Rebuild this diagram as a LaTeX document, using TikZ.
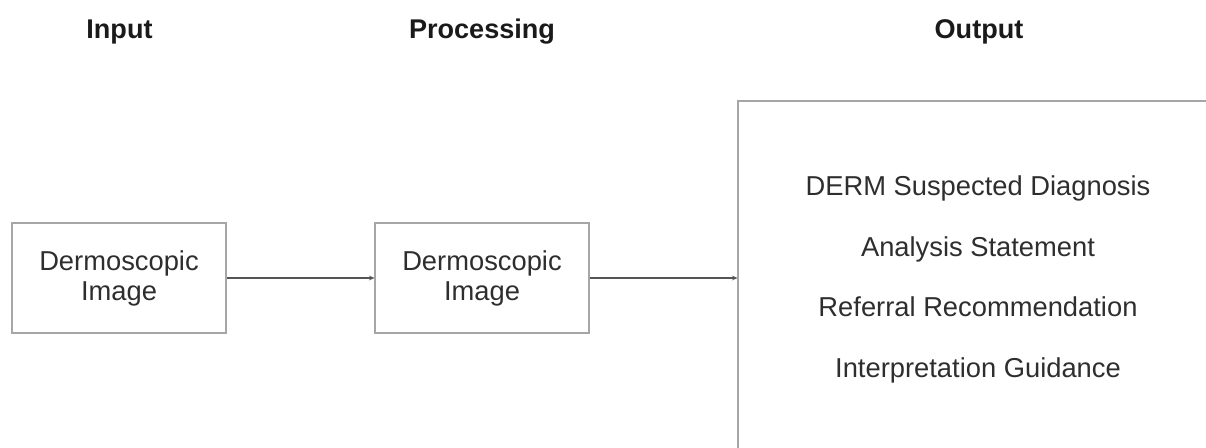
\documentclass[tikz,border=0pt]{standalone}
\usepackage{fontspec}
\setmainfont{Liberation Sans}
\usetikzlibrary{arrows.meta}
\definecolor{boxgray}{HTML}{A6A6A6}
\definecolor{arrowgray}{HTML}{555555}
\definecolor{txtgray}{HTML}{2E2E2E}
\definecolor{headgray}{HTML}{1A1A1A}
\tikzset{
  bodyfont/.style={font=\fontsize{20.5pt}{22.5pt}\selectfont, text=txtgray},
  heading/.style={font=\fontsize{20.3pt}{22.5pt}\selectfont\bfseries, text=headgray, anchor=base},
  stagebox/.style={draw=boxgray, line width=0.9pt, minimum width=160.5pt, minimum height=82.5pt, inner sep=0pt, align=center, bodyfont},
  outline/.style={anchor=base, bodyfont},
  flow/.style={draw=arrowgray, line width=1pt, -{Stealth[length=4pt,width=3.5pt]}}
}
\begin{document}
\begin{tikzpicture}[x=0.75pt,y=-0.75pt]
\useasboundingbox (0,0) rectangle (1206,448);
\clip (0,0) rectangle (1206,448);
\node[heading] (hin) at (119.5,39) {Input};
\node[heading] (hproc) at (482,39) {Processing};
\node[heading] (hout) at (979,39) {Output};
\node[stagebox] (b1) at (119,278) {Dermoscopic\\Image};
\node[stagebox] (b2) at (482,278) {Dermoscopic\\Image};
\node[draw=boxgray, line width=0.9pt, minimum width=369pt, minimum height=276.75pt, inner sep=0pt] (outbox) at (984,285.5) {};
\node[outline] (o1) at (978,196) {DERM Suspected Diagnosis};
\node[outline] (o2) at (978,257) {Analysis Statement};
\node[outline] (o3) at (978,317) {Referral Recommendation};
\node[outline] (o4) at (978,378) {Interpretation Guidance};
\draw[flow] (b1.east) -- (b2.west);
\draw[flow] (b2.east) -- (outbox.west |- b2.east);
\end{tikzpicture}
\end{document}
